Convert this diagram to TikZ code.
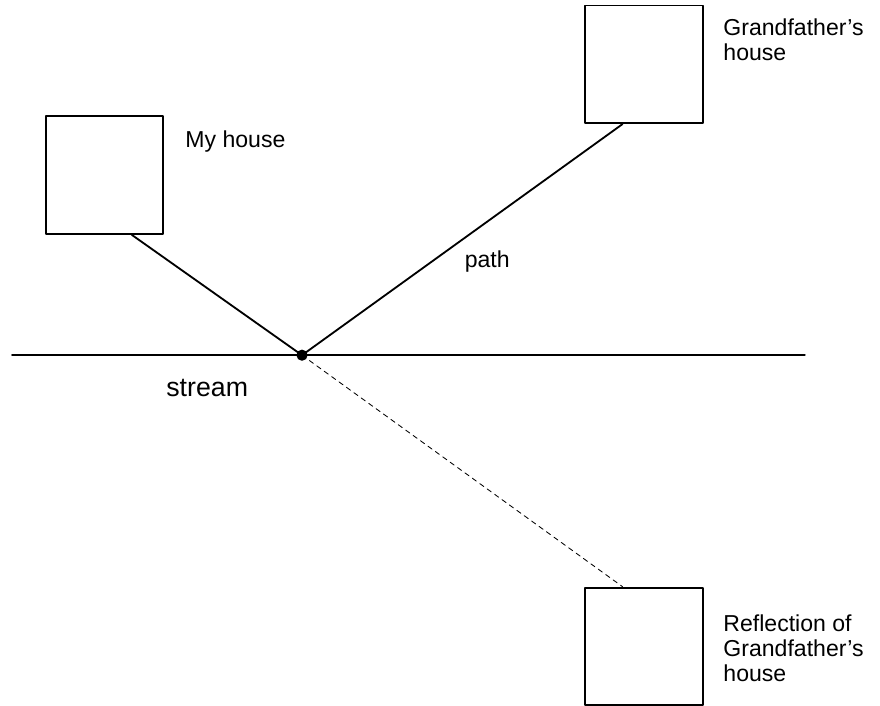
\documentclass[tikz,border=0pt]{standalone}
\usepackage{fontspec}
\setmainfont{Liberation Sans}
\usetikzlibrary{calc}
\begin{document}
\begin{tikzpicture}[font=\fontsize{16.4}{17.8}\selectfont, line join=round, line cap=round]
	\tikzset{house/.style={draw,line width=1.3pt,minimum size=2.94cm,inner sep=0pt},
		lbl/.style={anchor=west,align=left,inner sep=0pt}}
	\useasboundingbox (0,0) rectangle (22,17.65);
	% houses
	\node[house] (mine) at (2.61,13.27) {};
	\node[house] (gpa) at (16.1,16.04) {};
	\node[house] (refl) at (16.1,1.49) {};
	% stream and the point on it
	\coordinate (sl) at (0.3,8.77);
	\coordinate (sr) at (20.12,8.77);
	\draw[line width=1.3pt] (sl)--(sr);
	\coordinate (p) at (7.55,8.77);
	\coordinate (mine-s) at ($(mine.south west)!0.73!(mine.south east)$);
	\coordinate (gpa-s) at ($(gpa.south west)!0.32!(gpa.south east)$);
	\coordinate (refl-n) at ($(refl.north west)!0.32!(refl.north east)$);
	\draw[line width=1.3pt] (mine-s)--(p)--(gpa-s);
	\draw[line width=0.6pt,dash pattern=on 3.5pt off 3pt] (p)--(refl-n);
	\fill (p) circle (0.14);
	\path
	(4.63,14.1)node[lbl](mine-lbl){My house}
	(18.08,16.65)node[lbl](gpa-lbl){Grandfather's\\house}
	(18.08,1.45)node[lbl](refl-lbl){Reflection of\\Grandfather's\\house}
	(12.18,11.1)node(path-lbl){path}
	(5.18,7.95)node[font=\fontsize{19}{22}\selectfont](stream-lbl){stream}
	;
\end{tikzpicture}
\end{document}
